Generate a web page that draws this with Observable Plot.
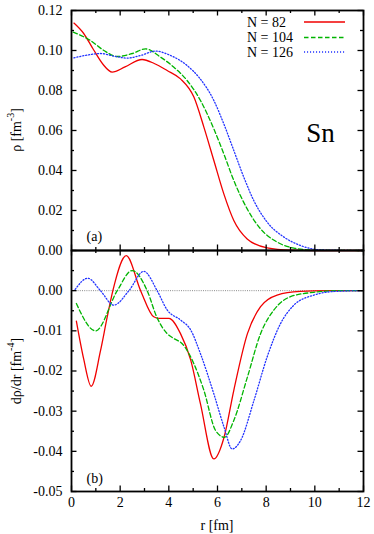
<!DOCTYPE html>
<html><head><meta charset="utf-8">
<script src="https://cdn.jsdelivr.net/npm/d3@7"></script>
<script src="https://cdn.jsdelivr.net/npm/@observablehq/plot@0.6"></script>
<style>
html,body{margin:0;padding:0;background:#fff;}
#chart{position:relative;width:374px;height:534px;overflow:hidden;background:#fff;font-family:"Liberation Serif","Times New Roman",serif;}
#chart svg{position:absolute;left:0;overflow:visible;}
#chart svg text{font-family:"Liberation Serif","Times New Roman",serif;}
</style></head><body><div id="chart"></div>
<script>
// ---- data: density rho(r) [fm^-3] ----
const rRho82  = [0.1,0.5,0.9,1.3,1.67,2.2,2.9,3.4,3.93,4.48,5.03,5.44,5.85,6.26,6.67,7.22,8.04,9.0,10,12];
const rho82   = [0.1137,0.1085,0.1005,0.0930,0.0892,0.0918,0.0955,0.0935,0.0900,0.0858,0.0767,0.0617,0.0450,0.0283,0.0150,0.0058,0.0013,0.0002,0,0];
const rRho104 = [0.07,0.78,1.33,1.88,2.5,3.04,3.66,4.2,4.75,5.3,5.85,6.26,6.67,7.22,7.77,8.45,9.14,10,12];
const rho104  = [0.1092,0.1050,0.1000,0.0970,0.0985,0.1008,0.0967,0.0917,0.0850,0.0750,0.0608,0.0483,0.0350,0.0208,0.0108,0.0042,0.0012,0.0002,0];
const rRho126 = [0.1,0.78,1.19,1.74,2.29,2.84,3.45,4.07,4.75,5.23,5.85,6.26,6.67,7.08,7.49,8.04,8.73,9.41,10.23,12];
const rho126  = [0.0963,0.0980,0.0985,0.0972,0.0962,0.0975,0.0997,0.0975,0.0925,0.0867,0.0750,0.0633,0.0500,0.0367,0.0250,0.0142,0.0067,0.0025,0.0003,0];
// ---- data: derivative drho/dr [fm^-4] ----
const rDer82  = [0.2,0.5,0.81,1.19,1.46,1.70,2.25,2.84,3.38,3.6,4.0,4.48,4.9,5.3,5.85,6.27,6.67,7.23,7.77,8.45,9.4,10.5,12];
const der82   = [-0.0076,-0.0170,-0.0238,-0.0150,-0.0068,0,0.0087,0,-0.0065,-0.0069,-0.0069,-0.0107,-0.0173,-0.0282,-0.0419,-0.0365,-0.0248,-0.0107,-0.0040,-0.0011,-0.0002,0,0];
const rDer104 = [0.2,0.99,1.88,2.49,3.11,3.5,3.93,4.2,4.55,5.03,5.44,5.92,6.29,6.67,7.23,7.77,8.32,9.0,9.96,11,12];
const der104  = [-0.0032,-0.0100,0,0.0050,0,-0.0065,-0.0107,-0.0119,-0.0132,-0.0182,-0.0248,-0.0348,-0.0365,-0.0323,-0.0215,-0.0107,-0.0048,-0.0015,-0.0004,0,0];
const rDer126 = [0.15,0.67,1.19,1.74,2.36,2.97,3.52,3.93,4.48,4.9,5.3,5.85,6.27,6.6,6.95,7.5,8.04,8.59,9.14,9.96,10.8,12];
const der126  = [0.0003,0.0031,0,-0.0036,0,0.0048,0,-0.0048,-0.0073,-0.0098,-0.0157,-0.0257,-0.0340,-0.0394,-0.0373,-0.0273,-0.0165,-0.0082,-0.0036,-0.0011,-0.0002,0];
// ---- series / ticks ----
const seriesNames = ["N = 82","N = 104","N = 126"];
const xMajor = [0,2,4,6,8,10,12];
const xMinor = [1,3,5,7,9,11];
const topYMajor = [0,0.02,0.04,0.06,0.08,0.10,0.12];
const topYMinor = [0.01,0.03,0.05,0.07,0.09,0.11];
const botYMajor = [-0.05,-0.04,-0.03,-0.02,-0.01,0.00];
const botYMinor = [-0.045,-0.035,-0.025,-0.015,-0.005,0.005];

const colors = ["#f00000","#00b400","#2233ff"];
const dashes = [null,"4.5,2.5","1.1,1.9"];
const zip = (rs, vs) => rs.map((r,i)=>({r, v: vs[i]}));
const rhoSeries = [zip(rRho82,rho82), zip(rRho104,rho104), zip(rRho126,rho126)];
const derSeries = [zip(rDer82,der82), zip(rDer104,der104), zip(rDer126,der126)];

const W = 374, ML = 71, MR = 11;
const PW = W - ML - MR;
const FONT = "'Liberation Serif', 'Times New Roman', serif";

function tickMarks(yMaj, yMin, plotH){
  const big = 5.5, small = 3;
  const o = {stroke:"black", strokeWidth:1.3};
  return [
    Plot.tickX(xMajor,{x:d=>d, insetBottom: plotH-big, ...o}),
    Plot.tickX(xMajor,{x:d=>d, insetTop: plotH-big, ...o}),
    Plot.tickX(xMinor,{x:d=>d, insetBottom: plotH-small, ...o}),
    Plot.tickX(xMinor,{x:d=>d, insetTop: plotH-small, ...o}),
    Plot.tickY(yMaj,{y:d=>d, insetRight: PW-big, ...o}),
    Plot.tickY(yMaj,{y:d=>d, insetLeft: PW-big, ...o}),
    Plot.tickY(yMin,{y:d=>d, insetRight: PW-small, ...o}),
    Plot.tickY(yMin,{y:d=>d, insetLeft: PW-small, ...o})
  ];
}
function lineMarks(series){
  return series.map((s,i)=>Plot.line(s,{x:"r", y:"v", stroke: colors[i], strokeWidth: 1.3,
    strokeDasharray: dashes[i], curve:"monotone-x"}));
}

const chart = document.getElementById("chart");

// top panel
const topH = 251;
const topPlot = Plot.plot({
  width: W, height: topH, marginTop: 10, marginBottom: 1, marginLeft: ML, marginRight: MR,
  style: {fontFamily: FONT, fontSize: "14px", background: "transparent", overflow:"visible"},
  x: {domain:[0,12], axis: null},
  y: {domain:[0,0.12]},
  marks: [
    ...lineMarks(rhoSeries),
    ...tickMarks(topYMajor, topYMinor, topH-11),
    Plot.axisY(topYMajor,{tickSize:0, tickPadding:9, tickFormat:d=>d.toFixed(2), label:null, fill:"black"}),
    Plot.text(["Sn"],{frameAnchor:"right", dx:-43, dy:3, textAnchor:"middle", fontSize:27, fill:"black"}),
    Plot.text(["(a)"],{frameAnchor:"bottom-left", dx:15, dy:-14, textAnchor:"start", lineAnchor:"middle", fontSize:14, fill:"black"}),
    Plot.frame({stroke:"black", strokeWidth:1.8})
  ]
});
topPlot.style.top = "0px";
chart.appendChild(topPlot);

// bottom panel
const botH = 284, botMB = 43;
const botPlot = Plot.plot({
  width: W, height: botH, marginTop: 0, marginBottom: botMB, marginLeft: ML, marginRight: MR,
  style: {fontFamily: FONT, fontSize: "14px", background: "transparent", overflow:"visible"},
  x: {domain:[0,12]},
  y: {domain:[-0.05,0.01]},
  marks: [
    Plot.ruleY([0],{stroke:"#8a8a8a", strokeWidth:1, strokeDasharray:"1,1.2"}),
    ...lineMarks(derSeries),
    ...tickMarks(botYMajor, botYMinor, botH-botMB),
    Plot.axisY(botYMajor,{tickSize:0, tickPadding:9, tickFormat:d=>d.toFixed(2), label:null, fill:"black"}),
    Plot.axisX(xMajor,{tickSize:0, tickPadding:6, tickFormat:d=>String(d), label:null, fill:"black"}),
    Plot.text(["(b)"],{frameAnchor:"bottom-left", dx:15, dy:-13, textAnchor:"start", lineAnchor:"middle", fontSize:14, fill:"black"}),
    Plot.frame({stroke:"black", strokeWidth:1.8})
  ]
});
botPlot.style.top = "250px";
chart.appendChild(botPlot);

// overlay: axis titles and legend
const ov = d3.select(chart).append("svg")
  .attr("width", W).attr("height", 534)
  .style("top","0px").style("pointer-events","none")
  .style("font-family", FONT).style("font-size","14px");

function yTitle(x, y, main, sup){
  const t = ov.append("text").attr("transform",`translate(${x},${y}) rotate(-90)`)
    .attr("text-anchor","middle").attr("dominant-baseline","central");
  t.append("tspan").text(main);
  t.append("tspan").attr("baseline-shift","super").attr("font-size","10px").text(sup);
  t.append("tspan").text("]");
}
yTitle(16, 130, "ρ [fm", "-3");
yTitle(16, 371, "dρ/dr [fm", "-4");
ov.append("text").attr("x", ML + PW/2).attr("y", 530).attr("text-anchor","middle").text("r [fm]");

const legY = [22, 37.5, 52];
seriesNames.forEach((name,i)=>{
  ov.append("text").attr("x",247).attr("y",legY[i]).attr("dominant-baseline","central").text(name);
  ov.append("line").attr("x1",304).attr("x2",345).attr("y1",legY[i]).attr("y2",legY[i])
    .attr("stroke",colors[i]).attr("stroke-width",1.3).attr("stroke-dasharray",dashes[i]);
});
</script></body></html>
